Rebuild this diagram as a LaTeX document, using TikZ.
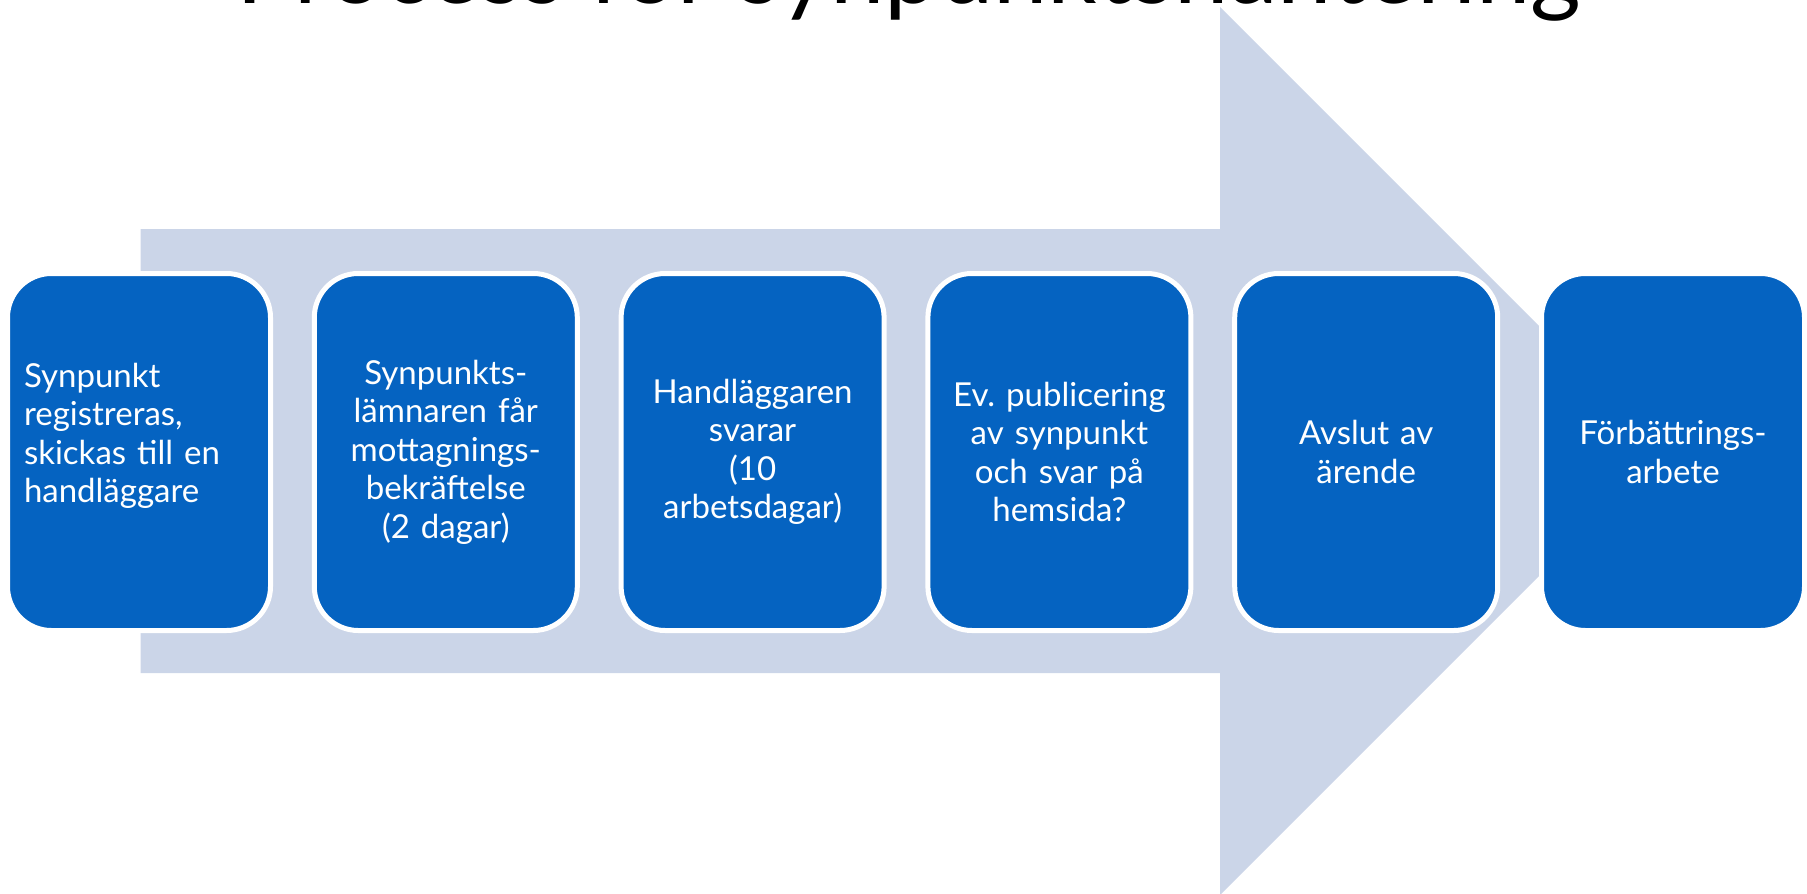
\documentclass[tikz,border=0pt]{standalone}
\usepackage{fontspec}
\setmainfont{Lato}
\frenchspacing
\definecolor{boxblue}{HTML}{0563C1}
\definecolor{arrowfill}{HTML}{CBD5E8}
\begin{document}
\begin{tikzpicture}[x=1pt,y=-1pt,
  stepbox/.style={rectangle, rounded corners=44pt, fill=boxblue, draw=white,
    line width=5pt, minimum width=263pt, minimum height=357pt, inner sep=0pt,
    text=white, text width=230pt, align=center,
    font=\fontsize{33}{38.5}\selectfont},
  titletext/.style={anchor=base, inner sep=0pt, font=\fontsize{97.5}{117}\selectfont}]
\useasboundingbox (0,0) rectangle (1807,894);
\clip (0,0) rectangle (1807,894);
\fill[arrowfill] (140.6,229) -- (1220,229) -- (1220,7) -- (1664,451)
  -- (1220,895) -- (1220,673) -- (140.6,673) -- cycle;
\node[titletext] (title) at (909,4) {Process för synpunktshantering};
\node[stepbox, align=left] (s1) at (139,452) {Synpunkt\\registreras,\\skickas till en\\handläggare\\ \mbox{}};
\node[stepbox] (s2) at (445.8,452) {Synpunkts-\\lämnaren får\\mottagnings-\\bekräftelse\\(2 dagar)};
\node[stepbox] (s3) at (752.6,452) {Handläggaren\\svarar\\(10\\arbetsdagar)};
\node[stepbox] (s4) at (1059.4,452) {Ev. publicering\\av synpunkt\\och svar på\\hemsida?};
\node[stepbox] (s5) at (1366.2,452) {Avslut av\\ärende};
\node[stepbox] (s6) at (1673,452) {Förbättrings-\\arbete};
\end{tikzpicture}
\end{document}
